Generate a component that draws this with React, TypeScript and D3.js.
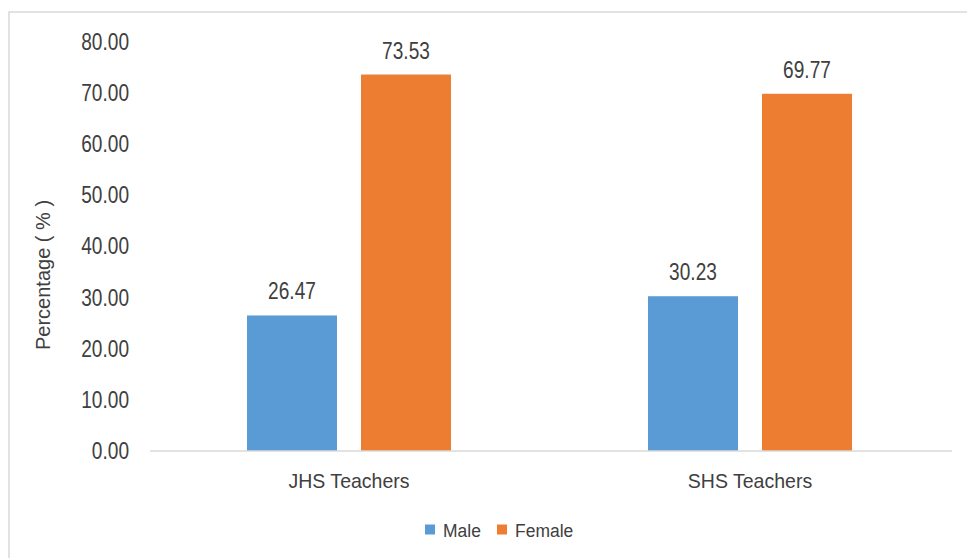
import * as d3 from 'd3'
import React from 'react'

const categories = ['JHS Teachers', 'SHS Teachers']
const seriesNames = ['Male', 'Female']
const maleValues = [26.47, 30.23]
const femaleValues = [73.53, 69.77]
const yTicks = [0, 10, 20, 30, 40, 50, 60, 70, 80]

const colors = ['#5b9bd5', '#ed7d31']
const textColor = '#404040'
const font = '"Liberation Sans", Arial, sans-serif'

export default function App() {
  const width = 967
  const height = 558
  const left = 150
  const right = 952
  const top = 41.4
  const bottom = 451

  const x = d3.scaleBand().domain(categories).range([left, right]).paddingInner(0).paddingOuter(0)
  const y = d3.scaleLinear().domain([0, 80]).range([bottom, top])
  const barW = 90
  const innerGap = 24
  const groupW = barW * 2 + innerGap
  const series = [maleValues, femaleValues]

  return (
    <svg width={width} height={height} style={{ position: 'absolute', left: 0, top: 0, background: '#fff' }}>
      <rect x={9} y={12} width={width + 10} height={height + 10} fill="#fff" stroke="#d9d9d9" strokeWidth={1.5} />
      {yTicks.map(t => (
        <text key={t} transform={`translate(129,${y(t)}) scale(0.83,1)`} textAnchor="end" dominantBaseline="central"
          fontFamily={font} fontSize={23} fill={textColor}>{d3.format('.2f')(t)}</text>
      ))}
      <text transform="translate(50,275) rotate(-90)" textAnchor="middle" fontFamily={font} fontSize={20} fill={textColor}>
        Percentage ( % )
      </text>
      {categories.map((c, ci) => {
        const cx = (x(c) as number) + x.bandwidth() / 2 - 1.5
        const x0 = cx - groupW / 2
        return (
          <g key={c}>
            {series.map((vals, si) => {
              const bx = x0 + si * (barW + innerGap)
              const v = vals[ci]
              return (
                <g key={si}>
                  <rect x={bx} y={y(v)} width={barW} height={bottom - y(v)} fill={colors[si]} />
                  <text transform={`translate(${bx + barW / 2},${y(v) - 16}) scale(0.83,1)`} textAnchor="middle"
                    fontFamily={font} fontSize={23} fill={textColor}>{d3.format('.2f')(v)}</text>
                </g>
              )
            })}
            <text transform={`translate(${cx},488) scale(0.93,1)`} textAnchor="middle" fontFamily={font}
              fontSize={21} fill={textColor}>{c}</text>
          </g>
        )
      })}
      <line x1={left} x2={right} y1={bottom} y2={bottom} stroke="#d9d9d9" strokeWidth={1.5} />
      {seriesNames.map((s, i) => {
        const lx = [425, 497][i]
        return (
          <g key={s}>
            <rect x={lx} y={524.5} width={10} height={10} fill={colors[i]} />
            <text transform={`translate(${lx + 18},537) scale(0.92,1)`} fontFamily={font} fontSize={19} fill={textColor}>{s}</text>
          </g>
        )
      })}
    </svg>
  )
}
